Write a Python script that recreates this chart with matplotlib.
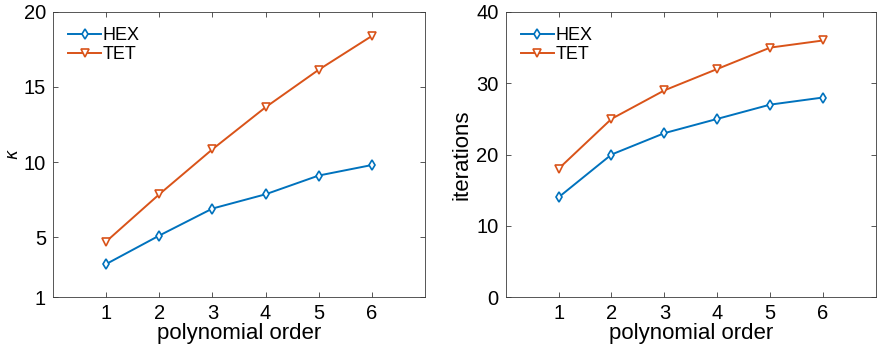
import matplotlib
matplotlib.use("Agg")
import matplotlib.pyplot as plt

plt.rcParams['font.family'] = ['Liberation Sans', 'DejaVu Sans']
plt.rcParams['mathtext.fontset'] = 'dejavusans'

#
# data
#
order = [1, 2, 3, 4, 5, 6]
kappa_hex = [3.2, 5.1, 6.9, 7.85, 9.1, 9.8]
kappa_tet = [4.7, 7.85, 10.85, 13.65, 16.15, 18.4]
iters_hex = [14, 20, 23, 25, 27, 28]
iters_tet = [18, 25, 29, 32, 35, 36]

blue = '#0072BD'
orange = '#D95319'
axis_grey = '#3a3a3a'

fig = plt.figure(figsize=(8.77, 3.52), dpi=100)
ax1 = fig.add_axes([0.0604, 0.156, 0.4242, 0.810])
ax2 = fig.add_axes([0.5766, 0.156, 0.4222, 0.810])


def style(ax, hex_vals, tet_vals):
  ax.plot(order, hex_vals, '-d', color=blue, lw=1.4, ms=5.5, mew=1.2,
          mfc='white', label='HEX')
  ax.plot(order, tet_vals, '-v', color=orange, lw=1.4, ms=6, mew=1.2,
          mfc='white', label='TET')
  ax.set_xlim(0, 7)
  ax.set_xticks(order)
  ax.tick_params(direction='in', top=True, right=True, length=3.5,
                 width=0.6, color=axis_grey, labelsize=14.5, pad=5)
  for s in ax.spines.values():
    s.set_linewidth(0.6)
    s.set_color(axis_grey)
  ax.set_xlabel('polynomial order', fontsize=16, labelpad=0)
  ax.legend(loc='upper left', frameon=False, fontsize=13,
            handlelength=1.8, handletextpad=0.1, labelspacing=0.1,
            borderaxespad=0.45, bbox_to_anchor=(0.0, 1.0))


style(ax1, kappa_hex, kappa_tet)
ax1.set_ylim(1, 20)
ax1.set_yticks([1, 5, 10, 15, 20])
ax1.set_ylabel(r'$\kappa$', fontsize=12, labelpad=2)

style(ax2, iters_hex, iters_tet)
ax2.set_ylim(0, 40)
ax2.set_yticks([0, 10, 20, 30, 40])
ax2.set_ylabel('iterations', fontsize=16, labelpad=3)

fig.savefig('out.png', dpi=100)
